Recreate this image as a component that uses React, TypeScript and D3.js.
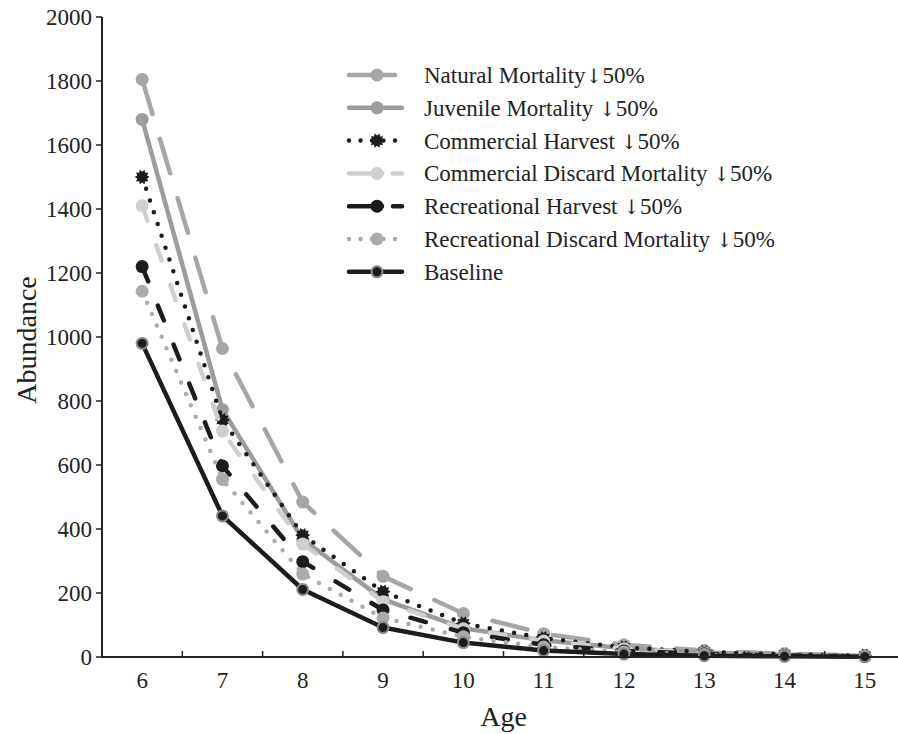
import React, { useEffect, useRef } from "react";
import * as d3 from "d3";

const ages = [6, 7, 8, 9, 10, 11, 12, 13, 14, 15];
const yTicks = [0, 200, 400, 600, 800, 1000, 1200, 1400, 1600, 1800, 2000];

const naturalMortality = [1805, 964, 484, 252, 136, 73, 38, 20, 10, 5];
const juvenileMortality = [1680, 773, 368, 180, 90, 52, 27, 14, 7, 4];
const commercialHarvest = [1500, 741, 381, 204, 105, 59, 30, 16, 8, 4];
const commercialDiscard = [1410, 706, 353, 173, 88, 50, 26, 13, 7, 3];
const recreationalHarvest = [1220, 597, 298, 147, 76, 38, 19, 10, 5, 2];
const recreationalDiscard = [1143, 555, 259, 122, 63, 31, 16, 8, 4, 2];
const baseline = [980, 441, 211, 92, 45, 20, 9, 4, 2, 1];

// legend labels split around the arrow so it can use a font that has the glyph
const seriesNames = [
  ["Natural Mortality", "\u2193", "50%"],
  ["Juvenile Mortality ", "\u2193", "50%"],
  ["Commercial Harvest ", "\u2193", "50%"],
  ["Commercial Discard Mortality ", "\u2193", "50%"],
  ["Recreational Harvest ", "\u2193", "50%"],
  ["Recreational Discard Mortality ", "\u2193", "50%"],
  ["Baseline", "", ""],
];

const FONT = "'Liberation Serif', 'Times New Roman', serif";

export default function App() {
  const ref = useRef<SVGSVGElement | null>(null);

  useEffect(() => {
    const width = 898;
    const svg = d3.select(ref.current);
    svg.selectAll("*").remove();

    const x = d3.scaleLinear().domain([5.5, 15.5]).range([102, 905]);
    const y = d3.scaleLinear().domain([0, 2000]).range([657, 17]);

    const series = [
      { name: seriesNames[0], values: naturalMortality, color: "#a6a6a8", dash: "36,26", legDash: "46,20", marker: "circle" },
      { name: seriesNames[1], values: juvenileMortality, color: "#9c9c9e", dash: null, legDash: null, marker: "circle" },
      { name: seriesNames[2], values: commercialHarvest, color: "#1c1c1c", dash: "0,12.4", legDash: "0,11.5", marker: "star" },
      { name: seriesNames[3], values: commercialDiscard, color: "#cfcfcf", dash: "16,26", legDash: "33,11", marker: "circle" },
      { name: seriesNames[4], values: recreationalHarvest, color: "#1c1c1c", dash: "16,26", legDash: "33,11", marker: "circle" },
      { name: seriesNames[5], values: recreationalDiscard, color: "#ababab", dash: "0,12.4", legDash: "0,11.5", marker: "circle" },
      { name: seriesNames[6], values: baseline, color: "#1c1c1c", dash: null, legDash: null, marker: "ring" },
    ];

    // burst marker for commercial harvest
    const starPath = (cx: number, cy: number) => {
      const pts: [number, number][] = [];
      const n = 10;
      for (let i = 0; i < n * 2; i++) {
        const r = i % 2 === 0 ? 7.5 : 5.2;
        const a = (Math.PI * i) / n;
        pts.push([cx + r * Math.cos(a), cy + r * Math.sin(a)]);
      }
      return "M" + pts.map((p) => p.join(",")).join("L") + "Z";
    };

    const drawMarker = (g: any, s: any, cx: number, cy: number) => {
      if (s.marker === "star") {
        g.append("path").attr("d", starPath(cx, cy)).attr("fill", s.color);
      } else if (s.marker === "ring") {
        g.append("circle").attr("cx", cx).attr("cy", cy).attr("r", 5.5)
          .attr("fill", s.color).attr("stroke", "#8a8a8a").attr("stroke-width", 2);
      } else {
        g.append("circle").attr("cx", cx).attr("cy", cy).attr("r", 6.5).attr("fill", s.color);
      }
    };

    const line = d3.line<number>().x((d, i) => x(ages[i])).y((d) => y(d));

    const plot = svg.append("g");
    series.forEach((s) => {
      const g = plot.append("g");
      g.append("path")
        .attr("d", line(s.values))
        .attr("fill", "none")
        .attr("stroke", s.color)
        .attr("stroke-width", 4.5)
        .attr("stroke-linecap", "round")
        .attr("stroke-linejoin", "round")
        .attr("stroke-dasharray", s.dash);
      s.values.forEach((v, i) => drawMarker(g, s, x(ages[i]), y(v)));
    });

    // axes
    const axisColor = "#222";
    svg.append("line").attr("x1", 102).attr("x2", 102).attr("y1", 17).attr("y2", 657)
      .attr("stroke", axisColor).attr("stroke-width", 2);
    svg.append("line").attr("x1", 101).attr("x2", width).attr("y1", 657).attr("y2", 657)
      .attr("stroke", axisColor).attr("stroke-width", 2);

    yTicks.forEach((t) => {
      svg.append("line").attr("x1", 96).attr("x2", 102).attr("y1", y(t)).attr("y2", y(t))
        .attr("stroke", axisColor).attr("stroke-width", 1.5);
      svg.append("text").attr("x", 92).attr("y", y(t)).attr("dy", "0.35em")
        .attr("text-anchor", "end").attr("font-family", FONT).attr("font-size", 23)
        .attr("fill", "#222").text(t);
    });

    ages.forEach((a) => {
      if (a < 15) {
        svg.append("line").attr("x1", x(a + 0.5)).attr("x2", x(a + 0.5)).attr("y1", 651).attr("y2", 657)
          .attr("stroke", axisColor).attr("stroke-width", 1.5);
      }
      svg.append("text").attr("x", x(a)).attr("y", 688)
        .attr("text-anchor", "middle").attr("font-family", FONT).attr("font-size", 23)
        .attr("fill", "#222").text(a);
    });

    svg.append("text").attr("x", x(10.5)).attr("y", 726).attr("text-anchor", "middle")
      .attr("font-family", FONT).attr("font-size", 28).attr("fill", "#222").text("Age");
    svg.append("text").attr("transform", "translate(36,340) rotate(-90)").attr("text-anchor", "middle")
      .attr("font-family", FONT).attr("font-size", 28).attr("fill", "#222").text("Abundance");

    // legend
    const leg = svg.append("g");
    series.forEach((s, i) => {
      const ly = 75 + i * 32.8;
      const g = leg.append("g");
      g.append("line").attr("x1", 349).attr("x2", 402).attr("y1", ly).attr("y2", ly)
        .attr("stroke", s.color).attr("stroke-width", 4.5)
        .attr("stroke-linecap", "round")
        .attr("stroke-dasharray", s.legDash);
      drawMarker(g, s, 377, ly);
      const t = g.append("text").attr("x", 424).attr("y", ly).attr("dy", "0.35em")
        .attr("font-family", FONT).attr("font-size", 23).attr("fill", "#222");
      t.append("tspan").text(s.name[0]);
      if (s.name[1]) {
        t.append("tspan").attr("font-family", "'DejaVu Serif', serif").attr("font-size", 20).text(s.name[1]);
        t.append("tspan").text(s.name[2]);
      }
    });
  }, []);

  return (
    <svg
      ref={ref}
      width={898}
      height={734}
      style={{ position: "absolute", left: 0, top: 0, background: "#fff" }}
    />
  );
}
